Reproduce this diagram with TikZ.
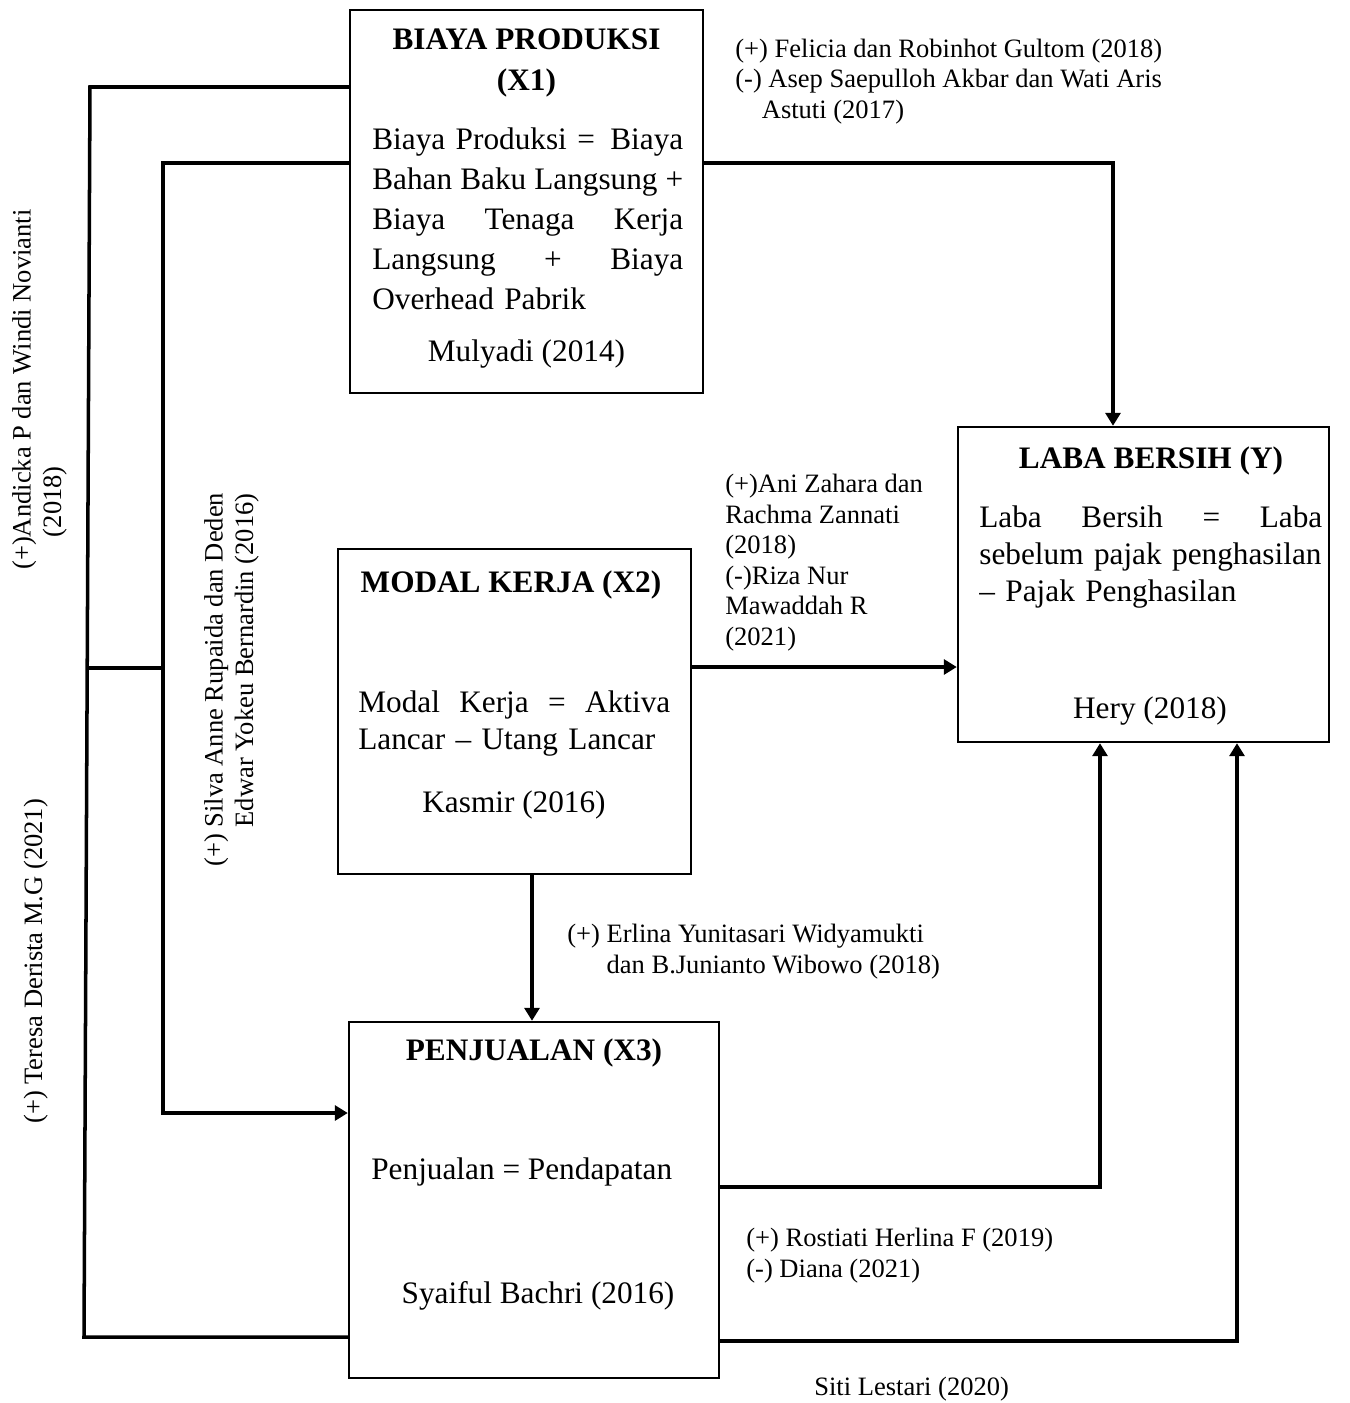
\documentclass[tikz,border=0pt]{standalone}
\usepackage{fontspec}
\setmainfont{Liberation Serif}
\usetikzlibrary{arrows.meta}
\newcommand{\bfont}{\fontsize{17.8}{22.8}\selectfont}
\newcommand{\lfont}{\fontsize{15.1}{17.35}\selectfont}

\begin{document}
\begin{tikzpicture}[x=0.02cm,y=-0.02cm,>={Triangle[length=7.4pt,width=8.5pt]},
    box/.style={draw,line width=1.4pt,inner sep=0pt},
    head/.style={font=\bfont\bfseries,align=center,anchor=base,inner sep=0pt},
    body/.style={font=\bfont,align=left,anchor=base west,inner sep=0pt},
    cite/.style={font=\bfont,anchor=base,inner sep=0pt},
    lbl/.style={font=\lfont,align=left,anchor=base west,inner sep=0pt},
    wire/.style={line width=2pt},
    link/.style={wire,->}]
    \useasboundingbox (0,0) rectangle (1349,1403);

    \node[box,minimum width=7.06cm,minimum height=7.66cm] (bp) at (526.5,201.5) {};
    \node[box,minimum width=7.42cm,minimum height=6.30cm] (lb) at (1143.5,584.5) {};
    \node[box,minimum width=7.06cm,minimum height=6.50cm] (mk) at (514.5,711.5) {};
    \node[box,minimum width=7.40cm,minimum height=7.12cm] (pj) at (534,1200) {};

    \node[head] (bpt) at (526.5,90) {BIAYA PRODUKSI\\(X1)};
    \node[body,text width=6.22cm] (bpb) at (372,149) {Biaya Produksi =\hfill Biaya\\\makebox[\linewidth][s]{\spaceskip=0.15em plus 1em\relax Bahan Baku Langsung +}\\Biaya\hfill Tenaga\hfill Kerja\\Langsung\hfill +\hfill Biaya\\Overhead Pabrik};
    \node[cite] (bpc) at (526.5,361) {Mulyadi (2014)};

    \node[head] (lbt) at (1151,468) {LABA BERSIH (Y)};
    \node[body,text width=6.86cm,font=\fontsize{17.8}{21.2}\selectfont] (lbb) at (979,527) {Laba\hfill Bersih\hfill =\hfill Laba\\\mbox{sebelum pajak penghasilan}\\-- Pajak Penghasilan};
    \node[cite] (lbc) at (1150,718) {Hery (2018)};

    \node[head] (mkt) at (511,592) {MODAL KERJA (X2)};
    \node[body,text width=6.24cm,font=\fontsize{17.8}{21.6}\selectfont] (mkb) at (358,712) {Modal\hfill Kerja\hfill =\hfill Aktiva\\Lancar -- Utang Lancar};
    \node[cite] (mkc) at (514,812) {Kasmir (2016)};

    \node[head] (pjt) at (534,1060) {PENJUALAN (X3)};
    \node[body] (pjb) at (371,1179) {Penjualan = Pendapatan};
    \node[cite] (pjc) at (538,1303) {Syaiful Bachri (2016)};

    \coordinate (ot) at (90,87);
    \coordinate (ob) at (84,1337);
    \coordinate (it) at (163,163);
    \coordinate (ib) at (163,1113);
    \coordinate (jo) at (87,668);

    \draw[link] (bp.east |- it) -| (1113,0 |- lb.north);
    \draw[wire] (bp.west |- ot) -- (ot) -- (ob) -- (pj.west |- ob);
    \draw[link] (bp.west |- it) -- (it) -- (ib) -- (pj.west |- ib);
    \draw[wire] (jo) -- (jo -| it);
    \draw[link] (mk.east |- 0,667) -- (lb.west |- 0,667);
    \draw[link] (532,0 |- mk.south) -- (532,0 |- pj.north);
    \draw[link] (pj.east |- 0,1187) -| (1100,0 |- lb.south);
    \draw[link] (pj.east |- 0,1341) -| (1237,0 |- lb.south);

    \node[lbl] (lf) at (735,118) {(+) Felicia dan Robinhot Gultom (2018)\\(-) Asep Saepulloh Akbar dan Wati Aris\\\phantom{(-)}Astuti (2017)};
    \node[lbl] (lz) at (725,645) {(+)Ani Zahara dan\\Rachma Zannati\\(2018)\\(-)Riza Nur\\Mawaddah R\\(2021)};
    \node[lbl] (le) at (567,973) {(+) Erlina Yunitasari Widyamukti\\\phantom{(+) }dan B.Junianto Wibowo (2018)};
    \node[lbl] (lr) at (746,1277) {(+) Rostiati Herlina F (2019)\\(-) Diana (2021)};
    \node[lbl] (lsl) at (814,1395) {Siti Lestari (2020)};
    \node[lbl,rotate=90] (la) at (61,570) {(+)Andicka P dan Windi Novianti\\\phantom{(+)}(2018)};
    \node[lbl,rotate=90] (lt) at (42,1124) {(+) Teresa Derista M.G (2021)};
    \node[lbl,rotate=90] (ls) at (253,867) {(+) Silva Anne Rupaida dan Deden\\\phantom{(+) }Edwar Yokeu Bernardin (2016)};
\end{tikzpicture}
\end{document}
